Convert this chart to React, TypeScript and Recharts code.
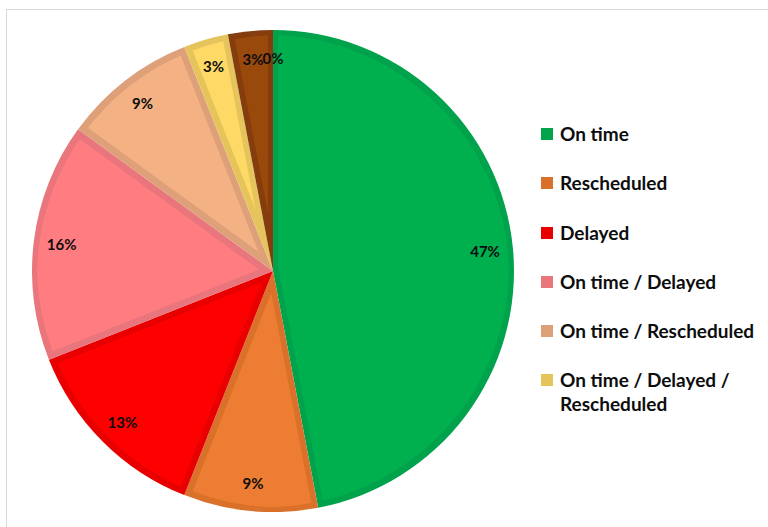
import React from "react";
import { PieChart, Pie, Cell, Legend } from "recharts";

const categories = [
  "On time",
  "Rescheduled",
  "Delayed",
  "On time / Delayed",
  "On time / Rescheduled",
  "On time / Delayed / Rescheduled",
  "Cancelled",
  "Other",
];
const shares = [47, 9, 13, 16, 9, 3, 3, 0];
const legendCount = 6;

const fillColors = ["#00B050", "#ED7D31", "#FF0000", "#FF7C80", "#F4B183", "#FFD966", "#9A480F", "#9A480F"];
const borderColors = ["#02A34B", "#D9712A", "#E80000", "#E8767B", "#DEA079", "#E6C45C", "#853E0D", "#853E0D"];

const data = categories.map((name, i) => ({ name, value: shares[i] }));

const RAD = Math.PI / 180;

const renderLabel = (props: any) => {
  const { cx, cy, midAngle, outerRadius, percent } = props;
  const r = outerRadius - 28;
  const x = cx + r * Math.cos(-midAngle * RAD);
  const y = cy + r * Math.sin(-midAngle * RAD);
  return (
    <text
      x={x}
      y={y}
      textAnchor="middle"
      dominantBaseline="central"
      fill="#0d0d0d"
      style={{ fontFamily: "Lato, 'Noto Sans', sans-serif", fontWeight: 700, fontSize: 15 }}
    >
      {`${Math.round(percent * 100)}%`}
    </text>
  );
};

const renderLegend = () => {
  const items = categories.slice(0, legendCount);
  return (
    <div style={{ fontFamily: "Lato, 'Noto Sans', sans-serif", fontWeight: 700, fontSize: 19, color: "#0d0d0d" }}>
      {items.map((name, i) => (
        <div key={i} style={{ display: "flex", alignItems: "flex-start", height: 49.3 }}>
          <div
            style={{
              width: 12,
              height: 12,
              background: borderColors[i],
              marginTop: 6,
              marginRight: 7,
              flex: "0 0 auto",
            }}
          />
          <div style={{ lineHeight: "24px", width: 205 }}>{name}</div>
        </div>
      ))}
    </div>
  );
};

export default function App() {
  return (
    <div style={{ position: "fixed", left: 0, top: 0, width: 768, height: 527, overflow: "hidden", background: "#fff" }}>
      <div
        style={{
          position: "absolute",
          left: 6,
          top: 9,
          width: 800,
          height: 600,
          border: "1px solid #d9d9d9",
          boxSizing: "border-box",
        }}
      />
      <div style={{ position: "absolute", left: 0, top: 0 }}>
        <PieChart width={768} height={527} margin={{ top: 0, right: 0, bottom: 0, left: 0 }}>
          <defs>
            {fillColors.map((c, i) => (
              <filter id={`inner-${i}`} key={i} x="-5%" y="-5%" width="110%" height="110%">
                <feMorphology in="SourceAlpha" operator="erode" radius="5" result="er" />
                <feFlood floodColor={c} result="fl" />
                <feComposite in="fl" in2="er" operator="in" result="inner" />
                <feMerge>
                  <feMergeNode in="SourceGraphic" />
                  <feMergeNode in="inner" />
                </feMerge>
              </filter>
            ))}
          </defs>
          <Pie
            data={data}
            dataKey="value"
            nameKey="name"
            cx={273}
            cy={271}
            outerRadius={241}
            startAngle={90}
            endAngle={-270}
            stroke="none"
            label={renderLabel}
            labelLine={false}
            isAnimationActive={false}
          >
            {data.map((d, i) => (
              <Cell key={i} fill={borderColors[i]} filter={`url(#inner-${i})`} />
            ))}
          </Pie>
          <Legend
            content={renderLegend}
            layout="vertical"
            wrapperStyle={{ position: "absolute", left: 541, top: 122, width: 225 }}
          />
        </PieChart>
      </div>
    </div>
  );
}
